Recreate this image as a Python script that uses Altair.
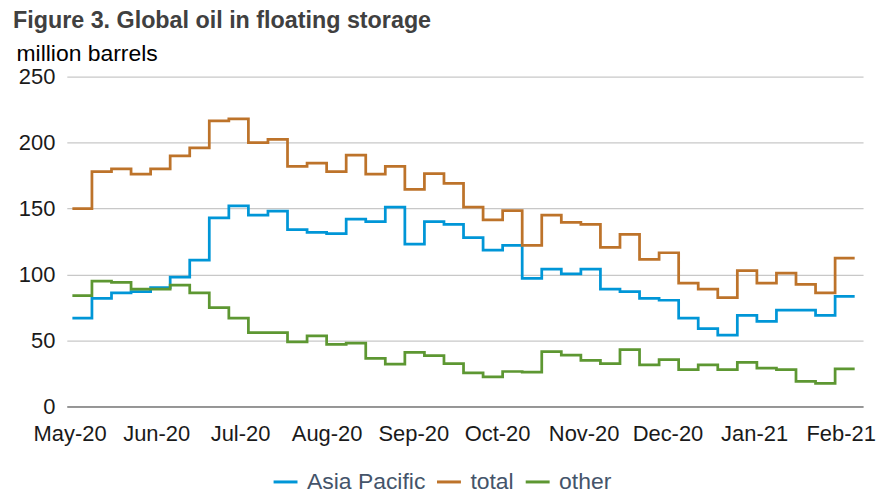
import altair as alt
import pandas as pd

# weekly data, weeks starting 2020-05-02
week_start = "2020-05-02"
n_weeks = 40
series_names = ["Asia Pacific", "total", "other"]
colors = ["#0096d7", "#bd732a", "#5d9732"]

asia_pacific = [67, 82, 86, 87, 90, 98, 111, 143, 152, 145,
                148, 134, 132, 131, 142, 140, 151, 123, 140, 138,
                128, 118.5, 122, 97, 104, 100.5, 104, 89, 87, 82,
                80.5, 67, 59, 54, 69, 64.5, 73, 73, 69, 83.5]
total = [150, 178, 180, 176, 180, 190, 196, 216.5, 218, 200,
         202.5, 182, 184.5, 178, 190.5, 176, 182, 164.5, 176.5, 169,
         151, 141.5, 148.5, 122, 145, 139.5, 138, 120.5, 130.5, 111.5,
         116.5, 93.5, 89, 82.5, 103, 93.5, 101, 92.5, 86, 112.5]
other = [84, 95, 94, 89, 89, 92, 86, 75, 67, 56,
         56, 49, 53.5, 47, 48, 36.5, 32, 41, 38.5, 32.5,
         25.5, 22.5, 26.5, 26, 41.5, 39, 35, 32.5, 43, 31.5,
         35.5, 28, 31.5, 28, 33.5, 29, 28, 19, 17.5, 28.5]

y_ticks = [0, 50, 100, 150, 200, 250]
month_ticks = [(2020, m) for m in range(5, 13)] + [(2021, 1), (2021, 2)]

dates = pd.date_range(week_start, periods=n_weeks + 1, freq="7D")
rows = []
for name, vals in zip(series_names, [asia_pacific, total, other]):
    ext = list(vals) + [vals[-1]]
    for d, v in zip(dates, ext):
        rows.append({"date": d.strftime("%Y-%m-%dT%H:%M:%S"), "series": name, "value": v})
df = pd.DataFrame(rows)

FONT = "Liberation Sans"

chart = alt.Chart(df).mark_line(
    interpolate="step-after", strokeWidth=2.75, clip=False
).encode(
    x=alt.X(
        "date:T",
        scale=alt.Scale(
            domain=[alt.DateTime(year=2020, month=4, date=30),
                    alt.DateTime(year=2021, month=2, date=9)],
            nice=False,
        ),
        axis=alt.Axis(
            values=[alt.DateTime(year=y, month=m, date=1) for y, m in month_ticks],
            format="%b-%y", title=None, ticks=False, grid=False,
            labelFlush=False, labelOverlap=False, labelBound=False,
            domainColor="#7f7f7f", domainWidth=1.5,
            labelFontSize=22, labelPadding=17, labelColor="#1a1a1a", labelFont=FONT,
        ),
    ),
    y=alt.Y(
        "value:Q",
        scale=alt.Scale(domain=[0, 250], nice=False),
        axis=alt.Axis(
            values=y_ticks, title="million barrels", titleAngle=0,
            titleX=-51, titleY=-16, titleAlign="left", titleBaseline="alphabetic",
            titleFontSize=23, titleFontWeight="normal", titleColor="#000000", titleFont=FONT,
            domain=False, ticks=False, gridColor="#c8c8c8", gridWidth=1.3,
            labelFontSize=22, labelPadding=12, labelColor="#1a1a1a", labelFont=FONT,
        ),
    ),
    color=alt.Color(
        "series:N",
        scale=alt.Scale(domain=series_names, range=colors),
        legend=alt.Legend(
            title=None, orient="none", legendX=206, legendY=393,
            direction="horizontal", symbolType="stroke", symbolSize=576,
            symbolStrokeWidth=3, labelFontSize=23, labelColor="#44546A",
            labelFont=FONT, labelOffset=8, columnPadding=5, padding=0,
        ),
    ),
).properties(
    width=799,
    height=331,
    autosize=alt.AutoSizeParams(type="none"),
    padding={"left": 59, "top": 68, "right": 14, "bottom": 87},
    title=alt.TitleParams(
        text="Figure 3. Global oil in floating storage",
        anchor="start", frame="group", dx=-54, offset=9,
        fontSize=23.4, fontWeight="bold", color="#404040", font=FONT,
    ),
).configure_view(stroke=None)

chart.save("out.html", embed_options={"renderer": "svg", "actions": False})
